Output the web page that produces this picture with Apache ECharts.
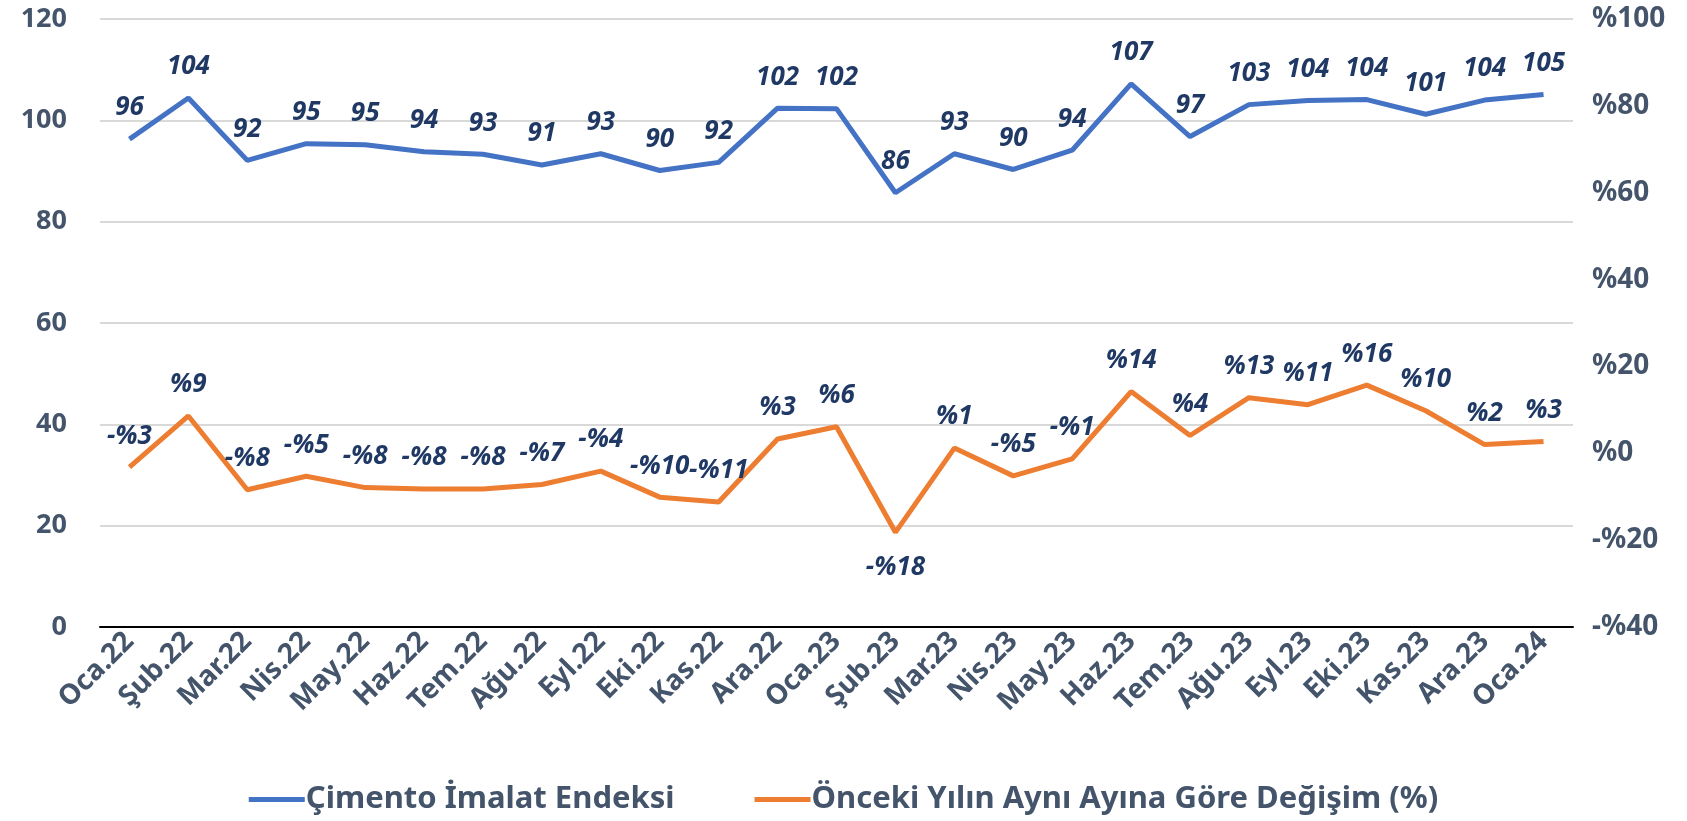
<!DOCTYPE html>
<html>
<head>
<meta charset="utf-8">
<script src="https://cdn.jsdelivr.net/npm/echarts@6/dist/echarts.min.js"></script>
<style>
    html, body { margin: 0; padding: 0; background: #fff; }
    #chart { width: 1687px; height: 821px; }
</style>
</head>
<body>
<div id="chart"></div>
<script>
// aylar
const months = ['Oca.22', 'Şub.22', 'Mar.22', 'Nis.22', 'May.22', 'Haz.22', 'Tem.22', 'Ağu.22', 'Eyl.22', 'Eki.22', 'Kas.22', 'Ara.22',
    'Oca.23', 'Şub.23', 'Mar.23', 'Nis.23', 'May.23', 'Haz.23', 'Tem.23', 'Ağu.23', 'Eyl.23', 'Eki.23', 'Kas.23', 'Ara.23', 'Oca.24'];
// çimento imalat endeksi
const indexValues = [96.3, 104.4, 92.1, 95.4, 95.2, 93.8, 93.3, 91.2, 93.4, 90.1, 91.7, 102.4,
    102.3, 85.7, 93.4, 90.3, 94.1, 107.2, 96.8, 103.1, 103.9, 104.1, 101.2, 104.0, 105.1];
// önceki yılın aynı ayına göre değişim (%)
const changeValues = [-3.2, 8.6, -8.4, -5.3, -7.9, -8.2, -8.2, -7.2, -4.1, -10.1, -11.2, 3.3,
    6.1, -18.2, 1.2, -5.2, -1.3, 14.2, 4.1, 12.8, 11.2, 15.7, 9.8, 2.0, 2.7];
const leftTicks = [0, 120, 20];
const rightTicks = [-40, 100, 20];

const axisColor = '#44546A';
const labelColor = '#1F3864';
const font = '"Noto Sans", sans-serif';

function pct(v) {
    return v < 0 ? '-%' + Math.abs(v) : '%' + v;
}

let myChart = echarts.init(document.getElementById('chart'));
let minChange = Math.min(...changeValues);
let dataLabel = {
    show: true,
    position: 'top',
    distance: 18,
    color: labelColor,
    fontSize: 26,
    fontWeight: 'bold',
    fontStyle: 'italic',
    fontFamily: font
};
let option = {
    animation: false,
    color: ['#4472C4', '#ED7D31'],
    grid: {
        left: 100,
        right: 114,
        top: 19,
        bottom: 194,
        containLabel: false
    },
    legend: {
        bottom: 1,
        left: 'center',
        icon: 'rect',
        itemWidth: 56,
        itemHeight: 5,
        itemGap: 80,
        textStyle: {
            color: axisColor,
            fontSize: 31,
            fontWeight: 'bold',
            fontFamily: font,
            padding: [0, 0, 0, -4]
        },
        data: ['Çimento İmalat Endeksi', 'Önceki Yılın Aynı Ayına Göre Değişim (%)']
    },
    xAxis: {
        type: 'category',
        data: months,
        axisTick: { show: false },
        axisLine: { lineStyle: { color: '#000', width: 2 } },
        axisLabel: {
            rotate: 45,
            interval: 0,
            margin: 10,
            color: axisColor,
            fontSize: 28,
            fontWeight: 'bold',
            fontFamily: font
        }
    },
    yAxis: [
        {
            type: 'value',
            min: leftTicks[0],
            max: leftTicks[1],
            interval: leftTicks[2],
            axisLine: { show: false },
            axisTick: { show: false },
            splitLine: { lineStyle: { color: '#D9D9D9', width: 2 } },
            axisLabel: {
                margin: 33,
                color: axisColor,
                fontSize: 27,
                fontWeight: 'bold',
                fontFamily: font
            }
        },
        {
            type: 'value',
            min: rightTicks[0],
            max: rightTicks[1],
            interval: rightTicks[2],
            axisLine: { show: false },
            axisTick: { show: false },
            splitLine: { show: false },
            axisLabel: {
                margin: 19,
                color: axisColor,
                fontSize: 28,
                fontWeight: 'bold',
                fontFamily: font,
                formatter: v => pct(v)
            }
        }
    ],
    series: [
        {
            name: 'Çimento İmalat Endeksi',
            type: 'line',
            yAxisIndex: 0,
            data: indexValues,
            symbol: 'circle',
            symbolSize: 0,
            lineStyle: { width: 5, color: '#4472C4' },
            label: Object.assign({}, dataLabel, {
                formatter: p => Math.round(p.value)
            })
        },
        {
            name: 'Önceki Yılın Aynı Ayına Göre Değişim (%)',
            type: 'line',
            yAxisIndex: 1,
            data: changeValues.map(v => v === minChange
                ? { value: v, label: { position: 'bottom', distance: 22 } }
                : v),
            symbol: 'circle',
            symbolSize: 0,
            lineStyle: { width: 5, color: '#ED7D31' },
            label: Object.assign({}, dataLabel, {
                formatter: p => pct(Math.round(p.value))
            })
        }
    ]
};
myChart.setOption(option);
</script>
</body>
</html>
